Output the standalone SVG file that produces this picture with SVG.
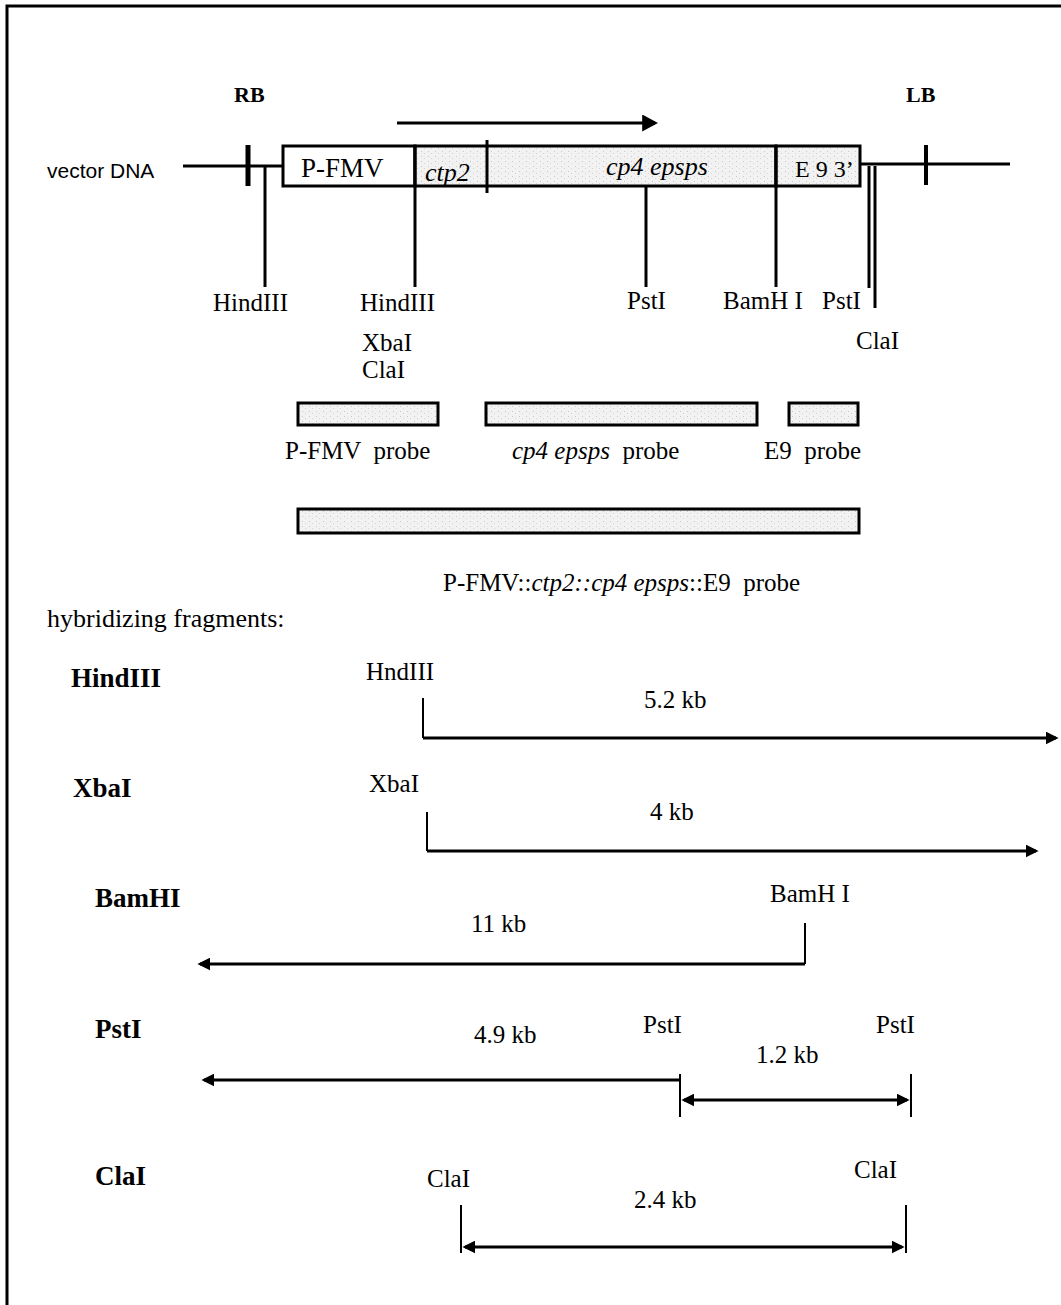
<svg xmlns="http://www.w3.org/2000/svg" width="1061" height="1305" viewBox="0 0 1061 1305">
<style>
.t{font-family:"Liberation Serif","Times New Roman",serif;font-size:25px;fill:#000;white-space:pre}
.s{font-family:"Liberation Sans",Arial,sans-serif;font-size:21px;fill:#000}
.b{font-family:"Liberation Serif","Times New Roman",serif;font-size:27px;font-weight:bold;fill:#000}
.i{font-style:italic}
.ln{stroke:#000;stroke-width:3;fill:none}
.thin{stroke:#000;stroke-width:2;fill:none}
.box{stroke:#000;stroke-width:3}
</style>
<defs>
<pattern id="dots" width="7" height="5" patternUnits="userSpaceOnUse">
<rect width="7" height="5" fill="#f2f2f2"/>
<rect x="1" y="1" width="1" height="1" fill="#c8c8c8"/>
<rect x="4" y="3" width="1" height="1" fill="#d4d4d4"/>
</pattern>
<marker id="ah" viewBox="0 0 10 10" refX="8" refY="5" markerWidth="13" markerHeight="13" markerUnits="userSpaceOnUse" orient="auto-start-reverse">
<path d="M0,0 L10,5 L0,10 z" fill="#000"/>
</marker>
<marker id="ahBig" viewBox="0 0 10 10" refX="8" refY="5" markerWidth="16" markerHeight="17" markerUnits="userSpaceOnUse" orient="auto" preserveAspectRatio="none">
<path d="M0,0 L10,5 L0,10 z" fill="#000"/>
</marker>
</defs>
<rect width="1061" height="1305" fill="#fff"/>
<g id="frame">
<path d="M7,1305 V6 H1061" class="ln"/>
</g>
<g id="borders">
<text x="234" y="102" class="b" style="font-size:22px">RB</text>
<text x="906" y="102" class="b" style="font-size:22px">LB</text>
<text x="47" y="178" class="s">vector DNA</text>
</g>
<g id="construct">
<rect x="283" y="146" width="132" height="40" fill="#fff" class="box"/>
<rect x="415" y="146" width="361" height="40" fill="url(#dots)" class="box"/>
<rect x="776" y="146" width="84" height="40" fill="url(#dots)" class="box"/>
<text x="301" y="177" class="t" style="font-size:27px">P-FMV</text>
<text x="425" y="181" class="t i" style="font-size:26px">ctp2</text>
<text x="606" y="175" class="t i" style="font-size:26px">cp4 epsps</text>
<text x="795" y="177" class="t" style="font-size:24px">E 9 3’</text>
</g>
<g id="sites">
<text x="213" y="311" class="t">HindIII</text>
<text x="360" y="311" class="t">HindIII</text>
<text x="362" y="351" class="t">XbaI</text>
<text x="362" y="378" class="t">ClaI</text>
<text x="627" y="309" class="t">PstI</text>
<text x="723" y="309" class="t">BamH I</text>
<text x="822" y="309" class="t">PstI</text>
<text x="856" y="349" class="t">ClaI</text>
</g>
<g id="probes">
<rect x="298" y="403" width="140" height="22" fill="url(#dots)" class="box"/>
<rect x="486" y="403" width="271" height="22" fill="url(#dots)" class="box"/>
<rect x="789" y="403" width="69" height="22" fill="url(#dots)" class="box"/>
<text x="285" y="459" class="t">P-FMV  probe</text>
<text x="512" y="459" class="t"><tspan class="i">cp4 epsps</tspan>  probe</text>
<text x="764" y="459" class="t">E9  probe</text>
<rect x="298" y="509" width="561" height="24" fill="url(#dots)" class="box"/>
<text x="443" y="591" class="t">P-FMV::<tspan class="i">ctp2::cp4 epsps</tspan>::E9  probe</text>
</g>
<g id="fragments-labels">
<text x="47" y="627" class="t" style="font-size:26px">hybridizing fragments:</text>
<text x="71" y="687" class="b">HindIII</text>
<text x="366" y="680" class="t">HndIII</text>
<text x="644" y="708" class="t">5.2 kb</text>
<text x="73" y="797" class="b">XbaI</text>
<text x="369" y="792" class="t">XbaI</text>
<text x="650" y="820" class="t">4 kb</text>
<text x="95" y="907" class="b">BamHI</text>
<text x="770" y="902" class="t">BamH I</text>
<text x="471" y="932" class="t">11 kb</text>
<text x="95" y="1038" class="b">PstI</text>
<text x="474" y="1043" class="t">4.9 kb</text>
<text x="643" y="1033" class="t">PstI</text>
<text x="876" y="1033" class="t">PstI</text>
<text x="756" y="1063" class="t">1.2 kb</text>
<text x="95" y="1185" class="b">ClaI</text>
<text x="427" y="1187" class="t">ClaI</text>
<text x="854" y="1178" class="t">ClaI</text>
<text x="634" y="1208" class="t">2.4 kb</text>
</g>
<g id="connectors">
<path d="M183,166 H283" class="ln"/>
<path d="M860,164 H1010" class="ln"/>
<path d="M248,145 V186" stroke="#000" stroke-width="5"/>
<path d="M926,145 V185" stroke="#000" stroke-width="4"/>
<path d="M397,123 H655" class="ln" marker-end="url(#ahBig)"/>
<path d="M265,166 V287" class="ln"/>
<path d="M415,146 V287" class="ln"/>
<path d="M487,140 V193" class="ln"/>
<path d="M646,186 V287" class="ln"/>
<path d="M776,146 V287" class="ln"/>
<path d="M869,166 V288" class="ln"/>
<path d="M875,166 V308" class="ln"/>
<path d="M423,698 V738" class="thin"/>
<path d="M423,738 H1056" class="ln" marker-end="url(#ah)"/>
<path d="M427,812 V851" class="thin"/>
<path d="M427,851 H1036" class="ln" marker-end="url(#ah)"/>
<path d="M805,923 V964" class="thin"/>
<path d="M805,964 H200" class="ln" marker-end="url(#ah)"/>
<path d="M680,1074 V1117" class="thin"/>
<path d="M680,1080 H204" class="ln" marker-end="url(#ah)"/>
<path d="M911,1074 V1117" class="thin"/>
<path d="M684,1100 H907" class="ln" marker-start="url(#ah)" marker-end="url(#ah)"/>
<path d="M461,1205 V1253" class="thin"/>
<path d="M906,1205 V1253" class="thin"/>
<path d="M465,1247 H902" class="ln" marker-start="url(#ah)" marker-end="url(#ah)"/>
</g>
</svg>
